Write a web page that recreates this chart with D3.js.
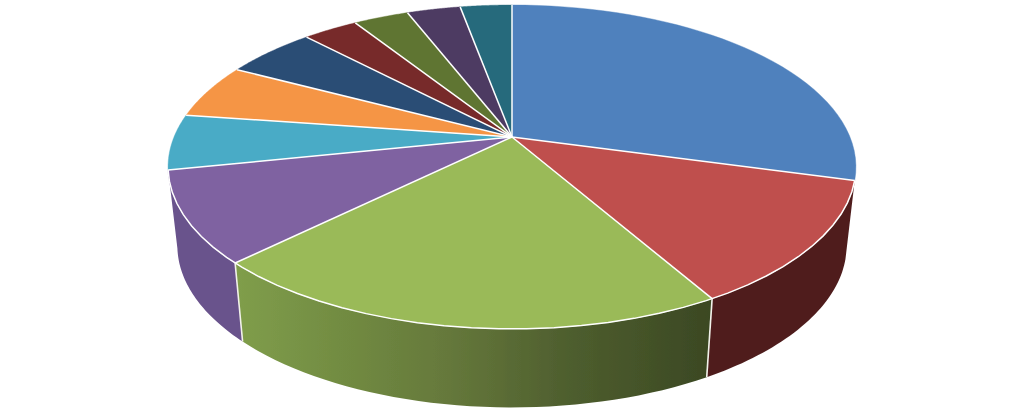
<!DOCTYPE html>
<html><head><meta charset="utf-8">
<script src="https://cdn.jsdelivr.net/npm/d3@7/dist/d3.min.js"></script>
<style>html,body{margin:0;background:#fff;overflow:hidden}svg{display:block}</style>
</head><body><svg id="c" width="1023" height="418"></svg>
<script>
const categories = ["A","B","C","D","E","F","G","H","I","J","K"];
const values = [29.25,12.45,20.9,9.1,5.55,5.45,5.15,3.1,3.1,3.0,2.9];
const topColors = ["#4f81bd","#bf504d","#9aba59","#7f62a1","#4aabc6","#f59545","#2c4d75","#772c2a","#5f7530","#4d3b62","#276a7c"];
const gradientStops = [[0,"#809e4b"],[0.22,"#728c42"],[0.45,"#65783b"],[0.7,"#4e5e2e"],[1,"#3b4823"]];

// Perspective of the tilted disc
const W=1023,H=418, cx=512, apexY=137, A=131.07, C=-0.185, D=338, depth=78.5, shrink=0.973;
const proj = a => {
  const x=Math.sin(a), y=-Math.cos(a), w=1+C*y;
  return [cx+D*x/w, (A*y+apexY)/w];
};
const low = p => [cx+(p[0]-cx)*shrink, p[1]+depth];
const range = (a0,a1) => d3.range(0,41).map(i=>a0+(a1-a0)*i/40);
const line = d3.line();

const svg = d3.select("#c");
const defs = svg.append("defs");
defs.append("filter").attr("id","soft").append("feGaussianBlur").attr("stdDeviation",0.5);
const grad = defs.append("linearGradient").attr("id","gw").attr("gradientUnits","userSpaceOnUse")
  .attr("x1",234).attr("x2",712).attr("y1",0).attr("y2",0);
grad.selectAll("stop").data(gradientStops).join("stop")
  .attr("offset",d=>d[0]).attr("stop-color",d=>d[1]);

const arcs = d3.pie().sort(null).value(d=>d)(values);
const g = svg.append("g").attr("filter","url(#soft)");

// walls: only the front facing part of the rim
const wallMin = 1.78, wallMax = 4.62;
const wallFill = {1:"#4f1f1e",2:"url(#gw)",3:"#69528c"};
[1,2,3].forEach(i=>{
  const a0=Math.max(arcs[i].startAngle,wallMin), a1=Math.min(arcs[i].endAngle,wallMax);
  const up=range(a0,a1).map(proj), dn=up.map(low).reverse();
  g.append("path").attr("d",line(up.concat(dn))+"Z").attr("fill",wallFill[i]);
});
// seams between walls
[arcs[1].endAngle,arcs[2].endAngle].forEach(a=>{
  const p=proj(a);
  g.append("path").attr("d",line([p,low(p)])).attr("stroke","#f2f2ea").attr("stroke-width",1.6).attr("fill","none");
});
// top face
arcs.forEach((d,i)=>{
  const pts=[[cx,apexY]].concat(range(d.startAngle,d.endAngle).map(proj));
  g.append("path").attr("d",line(pts)+"Z").attr("fill",topColors[i])
   .attr("stroke",topColors[i]).attr("stroke-width",0.4);
});
// spokes
arcs.forEach(d=>{
  g.append("path").attr("d",line([[cx,apexY],proj(d.startAngle)]))
   .attr("stroke","#fff").attr("stroke-width",1.5).attr("fill","none");
});
// white rim on the front part only
g.append("path").attr("d",line(range(arcs[1].startAngle,arcs[3].endAngle).map(proj)))
 .attr("stroke","#fff").attr("stroke-width",1.5).attr("fill","none");
</script></body></html>
